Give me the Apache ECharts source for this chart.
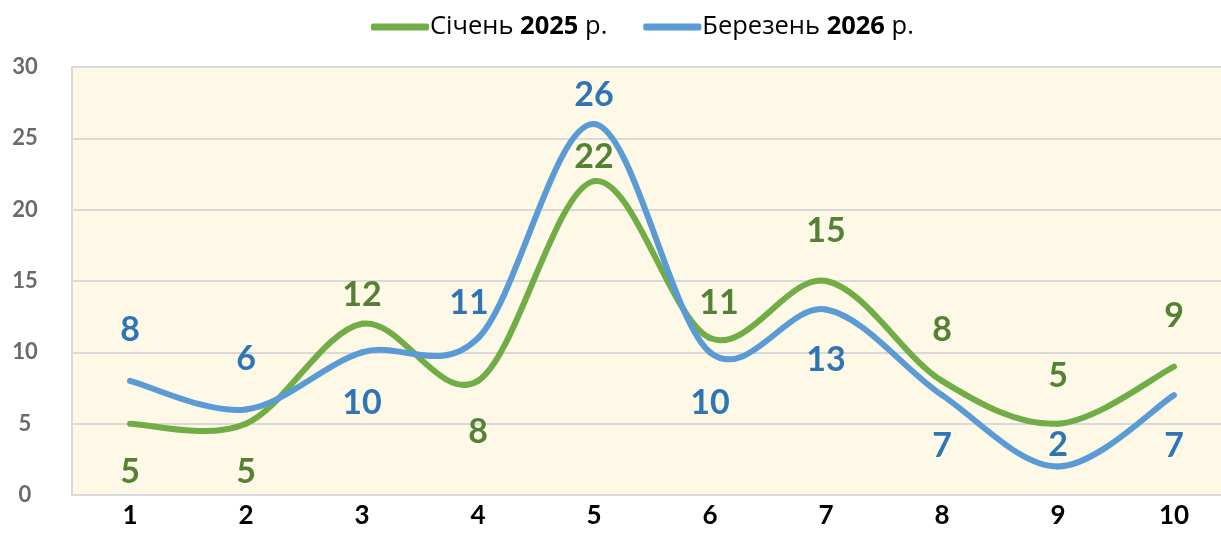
<!DOCTYPE html>
<html>
<head>
<meta charset="utf-8">
<script src="https://cdn.jsdelivr.net/npm/echarts@6/dist/echarts.min.js"></script>
<style>
  html, body { margin: 0; padding: 0; background: #fff; }
  #chart { width: 1221px; height: 555px; }
</style>
</head>
<body>
<div id="chart"></div>
<script>
const categories = ['1', '2', '3', '4', '5', '6', '7', '8', '9', '10']
const seriesNames = ['Січень 2025 р.', 'Березень 2026 р.']
const jan2025 = [5, 5, 12, 8, 22, 11, 15, 8, 5, 9]
const mar2026 = [8, 6, 10, 11, 26, 10, 13, 7, 2, 7]
const yTicks = { min: 0, max: 30, interval: 5 }

// where each value label sits relative to its point, [dx, dy] in px
const janLabelOffsets = [[0, 48], [0, 48], [0, -29], [0, 51], [0, -24], [9, -35], [0, -50], [0, -51], [0, -48], [0, -51]]
const marLabelOffsets = [[0, -51], [0, -50], [0, 51], [-9, -35], [0, -29], [0, 51], [0, 50], [0, 51], [0, -21], [0, 51]]

const FONT = 'Lato, "Noto Sans", sans-serif'
const LEGEND_FONT = '"Open Sans", "Noto Sans", sans-serif'
const GREEN = '#70ad47'
const BLUE = '#5b9bd5'

// Excel-like smoothing: one cubic bezier per segment, Catmull-Rom tangents
function smoothCurve(color) {
  return function (params, api) {
    const i = params.dataIndex
    const n = params.dataInsideLength
    if (i >= n - 1) return null
    const pt = k => api.coord([api.value(0, k), api.value(1, k)])
    const p0 = pt(Math.max(i - 1, 0))
    const p1 = pt(i)
    const p2 = pt(i + 1)
    const p3 = pt(Math.min(i + 2, n - 1))
    return {
      type: 'bezierCurve',
      shape: {
        x1: p1[0], y1: p1[1],
        x2: p2[0], y2: p2[1],
        cpx1: p1[0] + (p2[0] - p0[0]) / 6,
        cpy1: p1[1] + (p2[1] - p0[1]) / 6,
        cpx2: p2[0] - (p3[0] - p1[0]) / 6,
        cpy2: p2[1] - (p3[1] - p1[1]) / 6
      },
      style: { stroke: color, lineWidth: 6, fill: null, lineCap: 'round' }
    }
  }
}

function curveSeries(values, color) {
  return {
    type: 'custom',
    data: values.map((v, i) => [i, v]),
    renderItem: smoothCurve(color),
    silent: true,
    z: 2
  }
}

// invisible line series carrying the legend entry and the value labels
function labelSeries(name, values, offsets, color, labelColor) {
  return {
    name,
    type: 'line',
    data: values.map((v, i) => ({ value: v, label: { offset: offsets[i] } })),
    symbol: 'circle',
    symbolSize: 1,
    showSymbol: true,
    itemStyle: { color },
    lineStyle: { opacity: 0 },
    label: {
      show: true,
      position: 'inside',
      color: labelColor,
      fontFamily: FONT,
      fontWeight: 'bold',
      fontSize: 34
    },
    emphasis: { disabled: true },
    z: 3
  }
}

const chart = echarts.init(document.getElementById('chart'))

chart.setOption({
  animation: false,
  textStyle: { fontFamily: FONT },
  legend: {
    top: 9,
    left: 366,
    icon: 'roundRect',
    itemWidth: 58,
    itemHeight: 7,
    itemGap: 36,
    data: [
      { name: seriesNames[0], itemStyle: { color: GREEN } },
      { name: seriesNames[1], itemStyle: { color: BLUE } }
    ],
    formatter: name => name.replace(/(\d{4})/, '{b|$1}'),
    textStyle: {
      fontFamily: LEGEND_FONT,
      fontSize: 25.5,
      color: '#000',
      padding: [0, 0, 0, -4],
      rich: {
        b: { fontFamily: LEGEND_FONT, fontSize: 25.5, fontWeight: 'bold', color: '#000' }
      }
    }
  },
  grid: {
    left: 72,
    top: 67,
    width: 1160,
    height: 428,
    outerBoundsMode: 'none',
    show: true,
    backgroundColor: '#fef8e6',
    borderColor: '#d9d9d9',
    borderWidth: 2
  },
  xAxis: {
    type: 'category',
    data: categories,
    boundaryGap: true,
    axisLine: { show: true, lineStyle: { color: '#d9d9d9', width: 2 } },
    axisTick: { show: false },
    axisLabel: {
      color: '#000',
      fontFamily: FONT,
      fontWeight: 'bold',
      fontSize: 26,
      margin: 8
    }
  },
  yAxis: {
    type: 'value',
    min: yTicks.min,
    max: yTicks.max,
    interval: yTicks.interval,
    axisLine: { show: false },
    axisTick: { show: false },
    splitLine: { lineStyle: { color: '#d9d9d9', width: 2 } },
    axisLabel: {
      color: '#6b6b6b',
      fontFamily: FONT,
      fontWeight: 'bold',
      fontSize: 22,
      align: 'center',
      margin: 47,
      padding: [0, 0, 8, 0]
    }
  },
  series: [
    labelSeries(seriesNames[0], jan2025, janLabelOffsets, GREEN, '#548235'),
    labelSeries(seriesNames[1], mar2026, marLabelOffsets, BLUE, '#2e75b6'),
    curveSeries(jan2025, GREEN),
    curveSeries(mar2026, BLUE)
  ]
})
</script>
</body>
</html>
